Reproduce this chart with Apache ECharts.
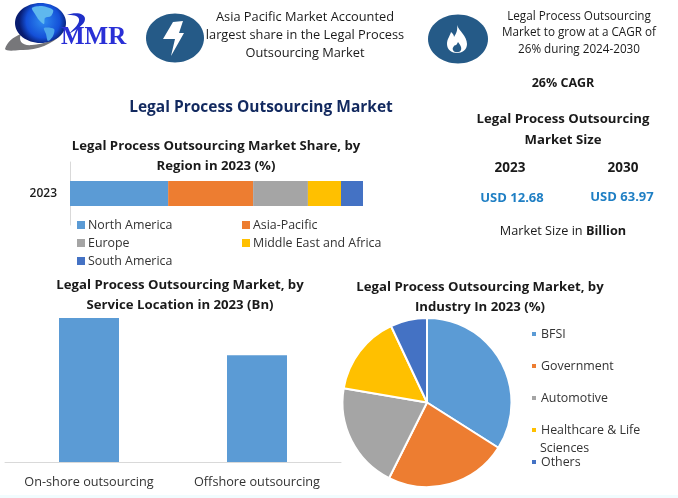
<!DOCTYPE html>
<html>
<head>
<meta charset="utf-8">
<style>html,body{margin:0;padding:0;background:#fff}#c{width:678px;height:498px}</style>
<script src="https://cdn.jsdelivr.net/npm/echarts@6/dist/echarts.min.js"></script>
</head>
<body>
<div id="c"></div>
<script>
const regionYear = ['2023'];
const regionNames = ['North America','Asia-Pacific','Europe','Middle East and Africa','South America'];
const regionValues = [33.5,29,18.7,11.3,7.5];
const locationCategories = ['On-shore outsourcing','Offshore outsourcing'];
const locationValues = [7.28,5.4];
const industryNames = ['BFSI','Government','Automotive','Healthcare & Life Sciences','Others'];
const industryValues = [34,23.4,20.3,15.3,7];
const palette = ['#5B9BD5','#ED7D31','#A5A5A5','#FFC000','#4472C4'];
const FONT = '"Open Sans", sans-serif';
const INK = '#1a1a1a';

function txt(x,y,text,size,bold,color,align,family){
  return {type:'text',x:x,y:y+1,silent:true,style:{text:text,fill:color||INK,
    font:(bold?'bold ':'')+size+'px '+(family||FONT),
    textAlign:align||'center',textVerticalAlign:'middle'}};
}
function pathShape(name,d,fill){
  echarts.graphic.registerShape(name,echarts.graphic.extendPath(d,{}));
  return {type:name,silent:true,style:{fill:fill}};
}
const regionLegendPos = [[77,219],[242,219],[77,237],[242,237],[77,255]];
const industryLegendPos = [[530,328],[530,360],[530,392],[530,424],[530,456]];
function legendOf(name,pos,size,fmt){
  return {data:[name],left:pos[0],top:pos[1],padding:0,itemWidth:size,itemHeight:size,itemGap:0,
    icon:'rect',selectedMode:false,formatter:fmt||undefined,
    textStyle:{fontFamily:FONT,fontSize:12.4,color:'#333',padding:[0,0,0,size===8?-2:-1]}};
}
const legends = regionNames.map((n,i)=>legendOf(n,regionLegendPos[i],8))
  .concat(industryNames.map((n,i)=>legendOf(n,industryLegendPos[i],6,
    n.indexOf('Healthcare')===0 ? ()=> 'Healthcare & Life' : undefined)));

const option = {
  animation:false,
  backgroundColor:'#fff',
  color:palette,
  legend:legends,
  grid:[
    {left:70,top:162,width:293,height:63,containLabel:false},
    {left:5,top:318,width:336,height:144,containLabel:false}
  ],
  xAxis:[
    {gridIndex:0,type:'value',min:0,max:100,show:false},
    {gridIndex:1,type:'category',data:locationCategories,
      axisLine:{lineStyle:{color:'#d9d9d9'}},axisTick:{show:false},
      axisLabel:{interval:0,hideOverlap:false,fontFamily:FONT,fontSize:12.7,color:'#333',margin:14}}
  ],
  yAxis:[
    {gridIndex:0,type:'category',data:regionYear,
      axisLine:{show:true,lineStyle:{color:'#d9d9d9'}},axisTick:{show:false},
      axisLabel:{fontFamily:FONT,fontSize:12,fontWeight:600,color:INK,margin:13}},
    {gridIndex:1,type:'value',min:0,max:7.28,show:false}
  ],
  series:regionNames.map((n,i)=>({
    type:'bar',name:n,stack:'r',xAxisIndex:0,yAxisIndex:0,barWidth:25,
    data:[regionValues[i]],itemStyle:{color:palette[i]}
  })).concat([
    {type:'bar',name:'Location',xAxisIndex:1,yAxisIndex:1,barWidth:60,
      data:locationValues,itemStyle:{color:palette[0]}},
    {type:'pie',name:'Industry',center:[427,402.5],radius:[0,84.5],startAngle:90,clockwise:true,
      label:{show:false},labelLine:{show:false},
      itemStyle:{borderColor:'#fff',borderWidth:2},
      data:industryNames.map((n,i)=>({name:n,value:industryValues[i],itemStyle:{color:palette[i]}}))}
  ]),
  graphic:{elements:[
    {type:'rect',silent:true,shape:{x:0,y:495,width:678,height:3},style:{fill:'#f1fcfe'}},
    // logo
    pathShape('logoSwoosh','M5 49 C7 42 13 37 21 34 C18 41 22 46 32 45 C44 44 54 40 62 34 C52 45 34 51 20 50 C12 51 6 51 5 49Z','#77777a'),
    {type:'ellipse',silent:true,shape:{cx:40.5,cy:23,rx:25.5,ry:20},style:{fill:{type:'radial',x:0.55,y:0.45,r:0.6,
      colorStops:[{offset:0,color:'#2f8cf0'},{offset:0.7,color:'#1450d8'},{offset:1,color:'#081c70'}]}}},
    {type:'polygon',silent:true,shape:{smooth:0.3,points:[[32,8],[42,6],[53,10],[51,16],[45,18],[44,24],[39,20],[35,14]]},style:{fill:'#5fb8ee'}},
    {type:'polygon',silent:true,shape:{smooth:0.3,points:[[44,28],[54,29],[53,36],[48,41],[46,34]]},style:{fill:'#4da6ea'}},
    pathShape('logoHook','M67 15 C75 12 85 13 85 19 C85 25 76 29 69 34 C74 28 80 24 79 19 C78 15 72 15 67 15Z','#1f2fc8'),
    txt(61,37,'MMR',25,true,'#2a30d6','left','"Liberation Serif", serif'),
    // lightning badge
    {type:'ellipse',silent:true,shape:{cx:175,cy:38,rx:29,ry:24.5},style:{fill:'#255a87'}},
    {type:'polygon',silent:true,shape:{points:[[173,22],[183,21],[179,33],[184,33],[171,56],[175,39],[163,39]]},style:{fill:'#fff'}},
    txt(305,16,'Asia Pacific Market Accounted',12.8),
    txt(305,34,'largest share in the Legal Process',12.8),
    txt(305,52,'Outsourcing Market',12.8),
    // flame badge
    {type:'ellipse',silent:true,shape:{cx:458,cy:39,rx:30,ry:24.5},style:{fill:'#255a87'}},
    pathShape('flameOuter','M457 25 C459 31 467 36 467 44 C467 50 462 53 457 53 C452 53 447 50 447 44 C447 39 450 36 451 32 C453 34 454 35 454 37 C456 34 458 30 457 25Z','#fff'),
    pathShape('flameInner','M458 42 C460 45 462 47 461 50 C460 53 454 53 453 50 C452 48 454 46 455 45 C456 46 457 44 458 42Z','#255a87'),
    txt(579,16,'Legal Process Outsourcing',11.7),
    txt(579,32,'Market to grow at a CAGR of',11.7),
    txt(579,49,'26% during 2024-2030',11.7),
    txt(563,82,'26% CAGR',12.5,true),
    // main title
    txt(261,107,'Legal Process Outsourcing Market',15.5,true,'#12295f'),
    // right column
    txt(563,118,'Legal Process Outsourcing',13.2,true),
    txt(563,139,'Market Size',13.2,true),
    txt(510,167,'2023',13.5,true),
    txt(623,167,'2030',13.5,true),
    txt(512,197,'USD 12.68',13,true,'#1f7fc4'),
    txt(622,196,'USD 63.97',13,true,'#1f7fc4'),
    txt(563,230,'Market Size in {b|Billion}',12.7),
    // chart titles
    txt(216,145,'Legal Process Outsourcing Market Share, by',13.2,true),
    txt(216,165,'Region in 2023 (%)',13.2,true),
    txt(180,284,'Legal Process Outsourcing Market, by',13.2,true),
    txt(180,304,'Service Location in 2023 (Bn)',13.2,true),
    txt(480,286,'Legal Process Outsourcing Market, by',13.2,true),
    txt(480,306,'Industry In 2023 (%)',13.2,true),
    txt(540,447,'Sciences',12.4,false,'#333','left')
  ]}
};
const cap = option.graphic.elements.find(e=>e.style && e.style.text && e.style.text.indexOf('{b|')>=0);
cap.style.rich = {b:{fontWeight:'bold',fontSize:12.7,fontFamily:FONT,fill:INK}};
echarts.init(document.getElementById('c'),null,{renderer:'canvas'}).setOption(option);
</script>
</body>
</html>
